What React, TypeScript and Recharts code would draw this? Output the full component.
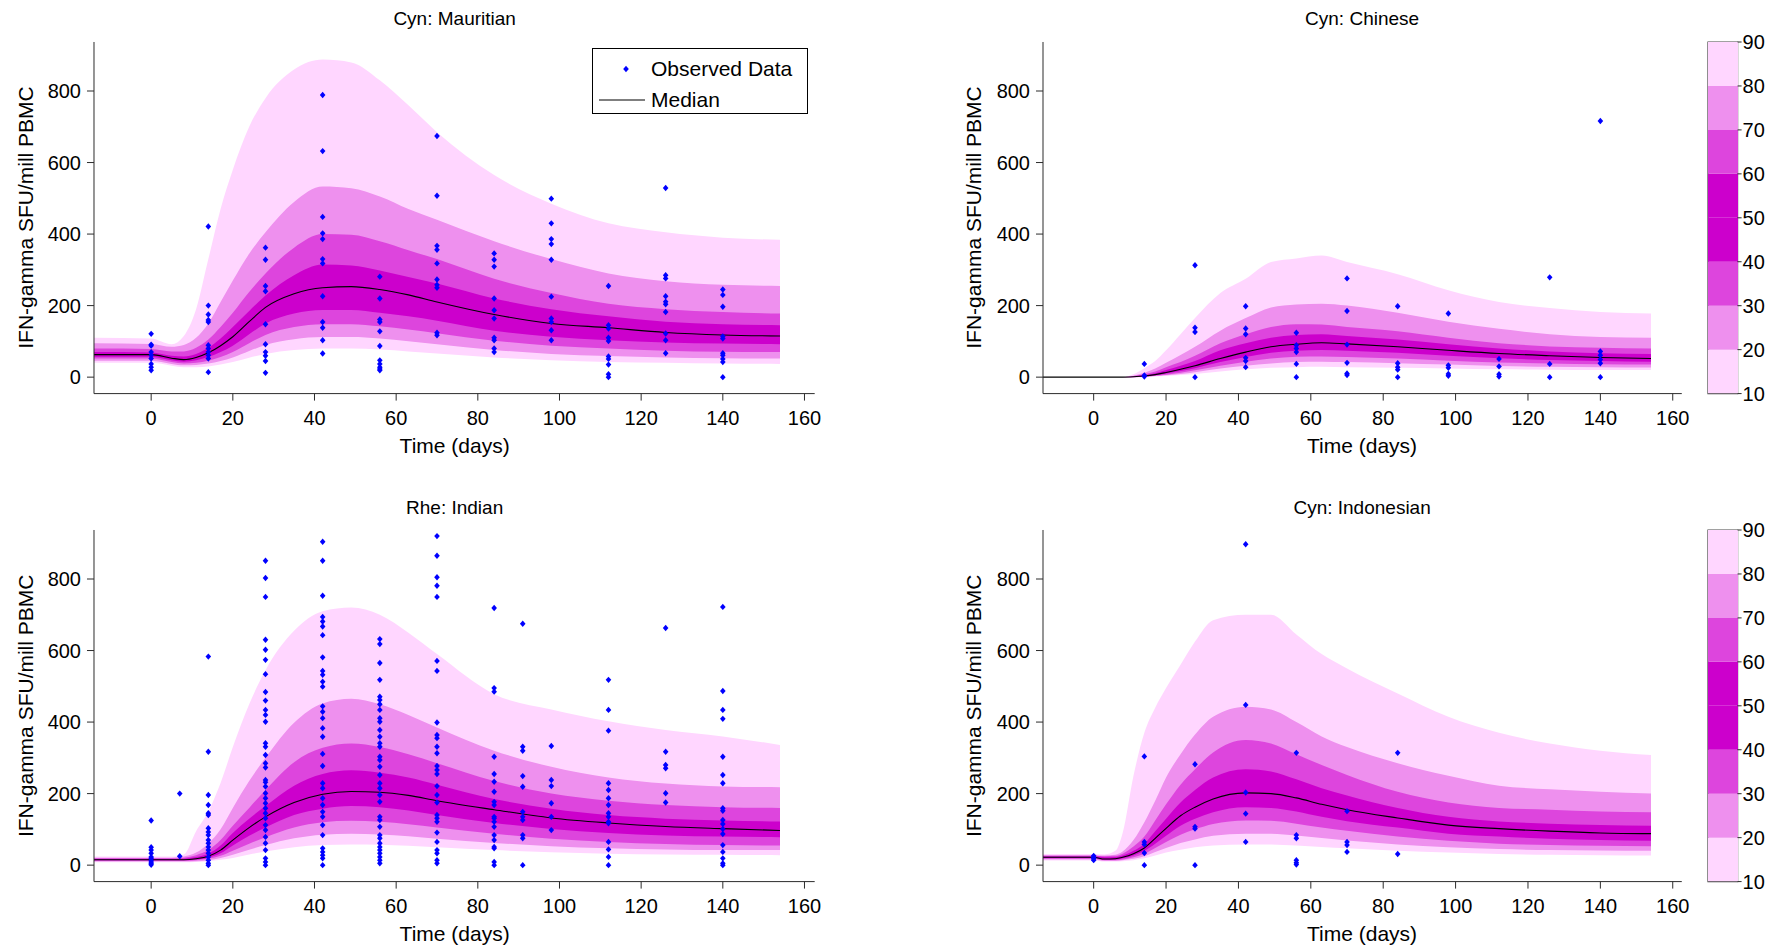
import React from 'react';
import {
  ComposedChart, Area, Line, Scatter, XAxis, YAxis, BarChart, Bar, ReferenceArea,
} from 'recharts';

// ---------------------------------------------------------------------------
// Data (percentile bands of simulated IFN-gamma response)
// ---------------------------------------------------------------------------

const X_TICKS = [0, 20, 40, 60, 80, 100, 120, 140, 160];
const Y_TICKS = [0, 200, 400, 600, 800];
const CB_LEVELS = [10, 20, 30, 40, 50, 60, 70, 80, 90];

// Cyn: Mauritian
const MAU_T = [-14, 0, 5, 8, 11, 14, 17, 20, 24, 28, 35, 42, 49, 56, 63, 70, 84, 98, 112, 126, 140, 154];
const MAU_P90 = [110, 108, 92, 115, 190, 330, 470, 580, 700, 780, 860, 888, 880, 830, 760, 685, 565, 485, 430, 405, 390, 384];
const MAU_P80 = [95, 93, 85, 90, 110, 150, 210, 270, 345, 405, 490, 533, 528, 505, 470, 440, 380, 330, 290, 268, 258, 255];
const MAU_P70 = [80, 79, 72, 72, 82, 105, 140, 180, 238, 290, 362, 400, 398, 380, 355, 330, 275, 235, 205, 190, 182, 178];
const MAU_P60 = [70, 69, 60, 58, 65, 82, 108, 140, 185, 228, 285, 315, 312, 298, 280, 262, 220, 190, 170, 155, 148, 145];
const MAU_P50 = [63, 63, 53, 49, 55, 68, 88, 113, 155, 195, 233, 250, 253, 245, 230, 210, 175, 150, 138, 125, 118, 115];
const MAU_P40 = [57, 57, 47, 43, 47, 56, 70, 88, 120, 150, 178, 188, 188, 180, 170, 158, 130, 113, 103, 97, 94, 92];
const MAU_P30 = [52, 52, 42, 38, 40, 46, 56, 70, 95, 118, 140, 148, 148, 142, 133, 123, 102, 88, 80, 74, 71, 70];
const MAU_P20 = [46, 46, 37, 33, 34, 38, 45, 55, 73, 90, 106, 112, 112, 108, 100, 92, 76, 65, 59, 55, 53, 52];
const MAU_P10 = [40, 40, 32, 28, 28, 30, 35, 42, 54, 65, 76, 80, 80, 77, 72, 66, 55, 47, 42, 40, 38, 37];
const MAU_OBS: Array<[number, number[]]> = [
  [0, [121, 91, 88, 70, 61, 52, 37, 28, 19]],
  [14, [421, 200, 175, 160, 154, 89, 80, 70, 61, 52, 14]],
  [28, [362, 328, 255, 240, 148, 92, 70, 60, 45, 12]],
  [42, [789, 632, 448, 402, 386, 330, 318, 226, 154, 138, 103, 66]],
  [56, [281, 220, 161, 154, 128, 87, 47, 37, 28, 23, 19]],
  [70, [674, 507, 367, 356, 318, 273, 258, 250, 124, 117]],
  [84, [346, 328, 309, 220, 187, 164, 110, 103, 80, 70]],
  [98, [499, 430, 386, 372, 328, 225, 164, 154, 131, 103]],
  [112, [255, 145, 136, 110, 101, 58, 51, 35, 8, 0]],
  [126, [529, 285, 276, 226, 211, 204, 182, 122, 103, 67]],
  [140, [245, 230, 197, 114, 108, 67, 61, 51, 42, 0]],
];

// Cyn: Chinese
const CHN_T = [-14, 0, 8, 11, 14, 17, 20, 24, 28, 35, 42, 49, 56, 63, 70, 84, 98, 112, 126, 140, 154];
const CHN_P90 = [0, 0, 0, 8, 25, 45, 75, 120, 165, 235, 275, 322, 332, 340, 322, 288, 243, 210, 193, 182, 178];
const CHN_P80 = [0, 0, 0, 4, 12, 24, 40, 62, 85, 130, 165, 195, 203, 205, 200, 180, 155, 135, 120, 112, 110];
const CHN_P70 = [0, 0, 0, 3, 8, 16, 28, 42, 60, 95, 120, 140, 148, 147, 140, 128, 110, 95, 86, 82, 80];
const CHN_P60 = [0, 0, 0, 2, 5, 11, 20, 32, 45, 75, 95, 110, 118, 120, 115, 105, 92, 80, 72, 67, 65];
const CHN_P50 = [0, 0, 0, 1, 3, 7, 13, 22, 32, 52, 70, 85, 92, 96, 93, 85, 75, 66, 60, 55, 52];
const CHN_P40 = [0, 0, 0, 1, 2, 5, 10, 17, 25, 42, 56, 68, 74, 76, 74, 68, 60, 53, 48, 45, 43];
const CHN_P30 = [0, 0, 0, 0, 1, 4, 7, 12, 19, 32, 43, 52, 57, 58, 56, 52, 46, 41, 38, 36, 35];
const CHN_P20 = [0, 0, 0, 0, 1, 3, 5, 9, 14, 24, 32, 38, 42, 43, 42, 39, 35, 31, 29, 28, 27];
const CHN_P10 = [0, 0, 0, 0, 0, 2, 3, 6, 9, 16, 22, 26, 28, 29, 28, 26, 24, 22, 21, 20, 20];
const CHN_OBS: Array<[number, number[]]> = [
  [14, [37, 5, 2]],
  [28, [313, 138, 126, 0]],
  [42, [198, 136, 120, 54, 45, 28]],
  [56, [124, 89, 80, 70, 37, 0]],
  [70, [276, 185, 91, 40, 10, 6]],
  [84, [198, 39, 28, 21, 0]],
  [98, [178, 33, 26, 9, 4]],
  [112, [51, 30, 8, 2]],
  [126, [279, 37, 0]],
  [140, [716, 72, 61, 49, 39, 0]],
];

// Rhe: Indian
const IND_T = [-14, 0, 5, 8, 11, 14, 17, 20, 24, 28, 35, 42, 49, 56, 63, 70, 84, 98, 112, 126, 140, 154];
const IND_P90 = [24, 24, 24, 30, 95, 150, 230, 330, 450, 545, 655, 710, 720, 700, 650, 590, 478, 435, 402, 378, 360, 336];
const IND_P80 = [21, 21, 21, 24, 35, 60, 100, 160, 235, 300, 398, 452, 465, 450, 420, 385, 320, 275, 245, 228, 220, 218];
const IND_P70 = [19, 19, 19, 21, 28, 42, 70, 110, 160, 210, 288, 328, 340, 330, 310, 285, 235, 200, 180, 168, 162, 160];
const IND_P60 = [17, 17, 17, 18, 23, 32, 55, 90, 130, 165, 222, 255, 265, 258, 245, 225, 185, 158, 140, 130, 125, 122];
const IND_P50 = [15, 15, 15, 15, 18, 25, 42, 70, 105, 135, 175, 198, 206, 204, 195, 180, 155, 132, 118, 108, 102, 97];
const IND_P40 = [14, 14, 14, 14, 16, 21, 33, 55, 82, 105, 140, 158, 165, 162, 153, 140, 118, 101, 90, 83, 80, 78];
const IND_P30 = [12, 12, 12, 12, 14, 18, 26, 40, 60, 78, 105, 120, 124, 121, 114, 105, 88, 74, 65, 59, 56, 55];
const IND_P20 = [10, 10, 10, 10, 11, 14, 20, 29, 43, 56, 75, 85, 88, 86, 81, 74, 62, 53, 47, 44, 42, 42];
const IND_P10 = [8, 8, 8, 8, 9, 11, 15, 20, 30, 38, 50, 56, 58, 57, 54, 50, 42, 36, 32, 30, 29, 28];
const IND_OBS: Array<[number, number[]]> = [
  [0, [125, 50, 42, 33, 23, 19, 14, 9, 5, 1]],
  [7, [200, 25]],
  [14, [583, 317, 196, 168, 145, 140, 103, 93, 84, 70, 61, 51, 42, 33, 23, 14, 5, 0]],
  [28, [851, 803, 750, 630, 602, 574, 534, 484, 460, 434, 420, 401, 341, 331, 308, 285, 273, 238, 232, 220, 201, 187, 173, 159, 145, 131, 112, 98, 79, 61, 42, 19, 9, 0]],
  [42, [904, 851, 753, 694, 681, 667, 643, 581, 543, 532, 513, 499, 444, 429, 411, 383, 359, 311, 277, 229, 215, 187, 168, 149, 135, 112, 84, 47, 37, 28, 19, 0]],
  [56, [632, 618, 565, 518, 471, 462, 450, 434, 411, 401, 378, 359, 341, 331, 303, 294, 275, 252, 229, 215, 196, 177, 135, 126, 107, 84, 75, 61, 51, 42, 33, 23, 14, 5]],
  [70, [920, 865, 805, 781, 750, 571, 543, 399, 364, 355, 331, 313, 277, 266, 255, 221, 196, 175, 140, 131, 121, 91, 65, 42, 33, 14, 5]],
  [84, [719, 495, 485, 303, 255, 233, 205, 177, 168, 135, 131, 121, 107, 84, 70, 51, 47, 9, 0]],
  [91, [675, 331, 320, 249, 219, 149, 135, 126, 84, 75, 0]],
  [98, [333, 238, 221, 173, 135, 98]],
  [112, [518, 434, 376, 229, 210, 187, 168, 145, 135, 121, 117, 65, 44, 23, 0]],
  [126, [663, 317, 280, 271, 201, 175]],
  [140, [722, 487, 434, 409, 303, 252, 229, 159, 152, 126, 115, 101, 87, 56, 37, 19, 5, 0]],
];

// Cyn: Indonesian
const IDN_T = [-14, 0, 3, 6, 8, 11, 14, 17, 20, 24, 28, 33, 42, 49, 56, 63, 70, 84, 98, 112, 126, 140, 154];
const IDN_P90 = [31, 31, 30, 40, 90, 250, 370, 440, 495, 560, 625, 685, 700, 700, 645, 590, 550, 480, 415, 370, 340, 320, 308];
const IDN_P80 = [28, 28, 27, 29, 38, 70, 120, 180, 245, 310, 365, 415, 443, 435, 400, 360, 330, 285, 250, 222, 212, 205, 200];
const IDN_P70 = [26, 26, 25, 26, 32, 52, 80, 125, 170, 225, 268, 315, 350, 340, 310, 280, 252, 205, 175, 160, 155, 150, 148];
const IDN_P60 = [24, 24, 22, 23, 27, 40, 60, 95, 130, 175, 210, 245, 268, 262, 240, 215, 195, 160, 135, 122, 116, 112, 110];
const IDN_P50 = [22, 22, 17, 18, 22, 32, 48, 75, 103, 138, 162, 185, 202, 200, 188, 170, 155, 132, 112, 102, 95, 90, 88];
const IDN_P40 = [20, 20, 15, 16, 19, 27, 40, 60, 82, 110, 130, 148, 162, 160, 150, 135, 123, 105, 88, 80, 74, 70, 68];
const IDN_P30 = [18, 18, 14, 14, 16, 22, 32, 48, 65, 85, 100, 115, 125, 124, 116, 105, 96, 80, 68, 60, 56, 54, 53];
const IDN_P20 = [16, 16, 12, 12, 14, 18, 25, 37, 48, 62, 72, 82, 88, 88, 83, 76, 69, 58, 50, 45, 42, 41, 40];
const IDN_P10 = [13, 13, 10, 10, 11, 14, 19, 27, 35, 43, 50, 55, 58, 58, 55, 51, 47, 40, 35, 31, 29, 28, 27];
const IDN_OBS: Array<[number, number[]]> = [
  [0, [26, 22, 18, 14]],
  [14, [304, 65, 58, 34, 0]],
  [28, [282, 107, 102, 0]],
  [42, [897, 448, 203, 144, 65]],
  [56, [314, 84, 75, 14, 7, 2]],
  [70, [151, 65, 56, 37]],
  [84, [314, 31]],
];

// ---------------------------------------------------------------------------
// Styling
// ---------------------------------------------------------------------------

const FONT = '"Liberation Sans", Arial, Helvetica, sans-serif';
const AXIS = '#2b2b2b';
const LIGHT = '#FFD6FF';
const MIDLIGHT = '#EE90EE';
const MID = '#DD45DD';
const DARK = '#CC00CC';
const BLUE = '#0000FF';
const CB_COLORS = [LIGHT, MIDLIGHT, MID, DARK, DARK, MID, MIDLIGHT, LIGHT];

const Y_AXIS_W = 80;
const X_AXIS_H = 50;

type Rect = { left: number; top: number; width: number; height: number };

const TOP_L: Rect = { left: 94.3, top: 41.7, width: 720.7, height: 351.6 };
const TOP_R: Rect = { left: 1042.7, top: 41.7, width: 638.8, height: 351.6 };
const BOT_L: Rect = { left: 94.3, top: 530, width: 720.7, height: 351.6 };
const BOT_R: Rect = { left: 1042.7, top: 530, width: 638.8, height: 351.6 };

function buildRows(t: number[], p10: number[], p20: number[], p30: number[], p40: number[],
  p50: number[], p60: number[], p70: number[], p80: number[], p90: number[]) {
  return t.map((x, i) => ({
    t: x,
    r90: [p10[i], p90[i]],
    r80: [p20[i], p80[i]],
    r70: [p30[i], p70[i]],
    r60: [p40[i], p60[i]],
    p50: p50[i],
  }));
}

function flattenObs(obs: Array<[number, number[]]>) {
  const out: { t: number; v: number }[] = [];
  for (const [t, vals] of obs) for (const v of vals) out.push({ t, v });
  return out;
}

function Diamond(props: any) {
  const { cx, cy } = props;
  if (cx == null || cy == null) return null;
  return <path d={`M${cx},${cy - 3.2}L${cx + 2.8},${cy}L${cx},${cy + 3.2}L${cx - 2.8},${cy}Z`} fill={BLUE} />;
}

function Panel({ rect, rows, obs }: { rect: Rect; rows: any[]; obs: { t: number; v: number }[] }) {
  const w = Y_AXIS_W + rect.width + 10;
  const h = 5 + rect.height + X_AXIS_H;
  return (
    <div style={{ position: 'absolute', left: rect.left - Y_AXIS_W, top: rect.top - 5 }}>
      <ComposedChart width={w} height={h} data={rows} margin={{ top: 5, right: 10, bottom: 0, left: 0 }}>
        <XAxis
          dataKey="t"
          type="number"
          domain={[-14, 162.5]}
          ticks={X_TICKS}
          allowDataOverflow
          height={X_AXIS_H}
          tickSize={7}
          tickMargin={10}
          stroke={AXIS}
          tick={{ fill: '#000', fontSize: 20, fontFamily: FONT }}
        />
        <YAxis
          type="number"
          domain={[-46, 937]}
          ticks={Y_TICKS}
          allowDataOverflow
          width={Y_AXIS_W}
          tickSize={7}
          tickMargin={6}
          stroke={AXIS}
          tick={{ fill: '#000', fontSize: 20, fontFamily: FONT }}
        />
        <Area type="monotone" dataKey="r90" stroke="none" fill={LIGHT} fillOpacity={1} isAnimationActive={false} />
        <Area type="monotone" dataKey="r80" stroke="none" fill={MIDLIGHT} fillOpacity={1} isAnimationActive={false} />
        <Area type="monotone" dataKey="r70" stroke="none" fill={MID} fillOpacity={1} isAnimationActive={false} />
        <Area type="monotone" dataKey="r60" stroke="none" fill={DARK} fillOpacity={1} isAnimationActive={false} />
        <Line type="monotone" dataKey="p50" stroke="#000" strokeWidth={1.1} dot={false} isAnimationActive={false} />
        <Scatter data={obs} dataKey="v" shape={Diamond} isAnimationActive={false} />
      </ComposedChart>
    </div>
  );
}

function ColorBar({ top, height }: { top: number; height: number }) {
  const row: Record<string, any> = { name: 'cb', base: CB_LEVELS[0] };
  CB_COLORS.forEach((_, i) => { row['s' + i] = CB_LEVELS[i + 1] - CB_LEVELS[i]; });
  const barW = 29.6;
  const pad = 16;
  return (
    <div style={{ position: 'absolute', left: 1707.7 - 2, top: top - pad }}>
      <BarChart width={2 + barW + 50} height={height + 2 * pad} data={[row]} barCategoryGap={0}
        margin={{ top: pad, right: 0, bottom: pad, left: 2 }}>
        <XAxis dataKey="name" hide />
        <YAxis
          orientation="right"
          type="number"
          domain={[10, 90]}
          ticks={CB_LEVELS}
          interval={0}
          allowDataOverflow
          width={50}
          axisLine={false}
          tickSize={4}
          tickMargin={1}
          stroke={AXIS}
          tick={{ fill: '#000', fontSize: 20, fontFamily: FONT }}
        />
        <Bar dataKey="base" stackId="cb" fill="transparent" isAnimationActive={false} />
        {CB_COLORS.map((c, i) => (
          <Bar key={i} dataKey={'s' + i} stackId="cb" fill={c} isAnimationActive={false} />
        ))}
        <ReferenceArea y1={10} y2={90} fill="none" stroke="#444" strokeWidth={1.2} />
      </BarChart>
    </div>
  );
}

function Legend() {
  return (
    <div style={{
      position: 'absolute', left: 592, top: 48, width: 214, height: 64,
      border: '1px solid #000', background: '#fff', fontFamily: FONT, fontSize: 21, color: '#000',
    }}>
      <svg width={60} height={64} style={{ position: 'absolute', left: 0, top: 0 }}>
        <path d="M33,16.8L35.8,20L33,23.2L30.2,20Z" fill={BLUE} />
        <line x1={6} x2={52} y1={51} y2={51} stroke="#000" strokeWidth={1.1} />
      </svg>
      <div style={{ position: 'absolute', left: 58, top: 8, lineHeight: '24px', whiteSpace: 'nowrap' }}>Observed Data</div>
      <div style={{ position: 'absolute', left: 58, top: 39, lineHeight: '24px', whiteSpace: 'nowrap' }}>Median</div>
    </div>
  );
}

function Labels({ rect, title }: { rect: Rect; title: string }) {
  const cx = rect.left + rect.width / 2;
  const cy = rect.top + rect.height / 2;
  const yl = rect.left - 69;
  return (
    <g fontFamily={FONT} fill="#000">
      <text x={cx} y={rect.top - 23} fontSize={19} textAnchor="middle" dominantBaseline="central">{title}</text>
      <text x={cx} y={rect.top + rect.height + 52} fontSize={21} textAnchor="middle" dominantBaseline="central">Time (days)</text>
      <text x={yl} y={cy} fontSize={21} textAnchor="middle" dominantBaseline="central"
        transform={`rotate(-90 ${yl} ${cy})`}>IFN-gamma SFU/mill PBMC</text>
    </g>
  );
}

export default function App() {
  const mau = buildRows(MAU_T, MAU_P10, MAU_P20, MAU_P30, MAU_P40, MAU_P50, MAU_P60, MAU_P70, MAU_P80, MAU_P90);
  const chn = buildRows(CHN_T, CHN_P10, CHN_P20, CHN_P30, CHN_P40, CHN_P50, CHN_P60, CHN_P70, CHN_P80, CHN_P90);
  const ind = buildRows(IND_T, IND_P10, IND_P20, IND_P30, IND_P40, IND_P50, IND_P60, IND_P70, IND_P80, IND_P90);
  const idn = buildRows(IDN_T, IDN_P10, IDN_P20, IDN_P30, IDN_P40, IDN_P50, IDN_P60, IDN_P70, IDN_P80, IDN_P90);

  return (
    <div style={{ position: 'absolute', left: 0, top: 0, width: 1782, height: 949, background: '#fff', overflow: 'hidden' }}>
      <Panel rect={TOP_L} rows={mau} obs={flattenObs(MAU_OBS)} />
      <Panel rect={TOP_R} rows={chn} obs={flattenObs(CHN_OBS)} />
      <Panel rect={BOT_L} rows={ind} obs={flattenObs(IND_OBS)} />
      <Panel rect={BOT_R} rows={idn} obs={flattenObs(IDN_OBS)} />
      <ColorBar top={TOP_R.top} height={TOP_R.height} />
      <ColorBar top={BOT_R.top} height={BOT_R.height} />
      <Legend />
      <svg width={1782} height={949} style={{ position: 'absolute', left: 0, top: 0, pointerEvents: 'none' }}>
        <Labels rect={TOP_L} title="Cyn: Mauritian" />
        <Labels rect={TOP_R} title="Cyn: Chinese" />
        <Labels rect={BOT_L} title="Rhe: Indian" />
        <Labels rect={BOT_R} title="Cyn: Indonesian" />
      </svg>
    </div>
  );
}
